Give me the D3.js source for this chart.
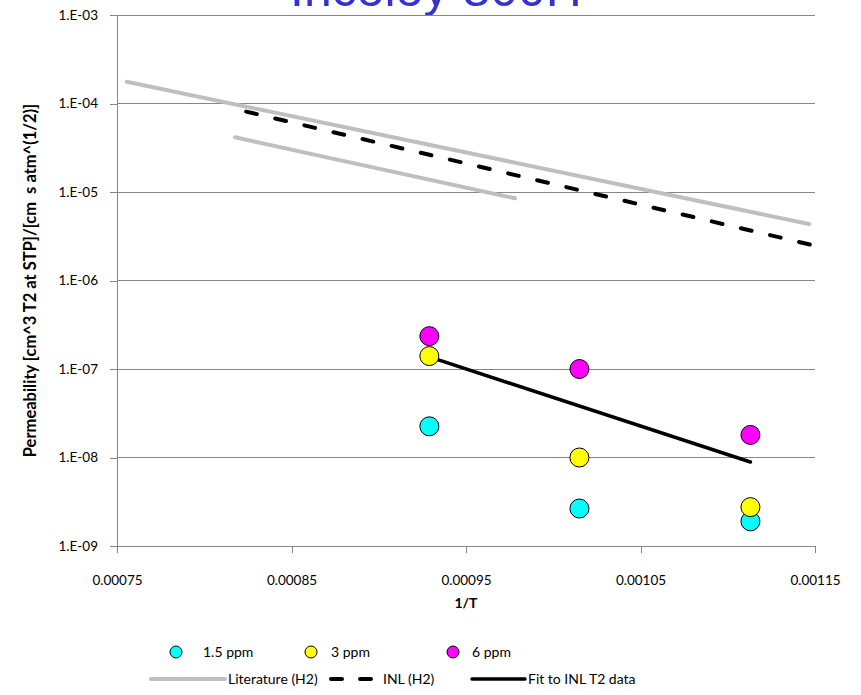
<!DOCTYPE html>
<html>
<head>
<meta charset="utf-8">
<script src="https://cdn.jsdelivr.net/npm/d3@7"></script>
<style>
  html, body { margin: 0; padding: 0; background: #fff; }
  svg { display: block; }
  text { font-family: Lato, "Open Sans", sans-serif; fill: #000; }
</style>
</head>
<body>
<div id="chart"></div>
<script>
// Inverse temperature (1/K) of the three test temperatures
const invT = [0.000929, 0.001015, 0.001113];

// Measured tritium permeability for each T2 concentration
const ppm15 = [2.25e-8, 2.65e-9, 1.9e-9];
const ppm3  = [1.40e-7, 1.0e-8, 2.75e-9];
const ppm6  = [2.35e-7, 1.0e-7, 1.8e-8];

// Literature hydrogen permeability correlations (end points)
const lit1X = [0.0007556, 0.0011466];
const lit1Y = [1.76e-4, 4.35e-6];
const lit2X = [0.0008176, 0.000978];
const lit2Y = [4.15e-5, 8.5e-6];

// INL hydrogen permeability (end points)
const inlX = [0.000824, 0.001147];
const inlY = [8.1e-5, 2.55e-6];

// Arrhenius fit to the INL T2 data (end points)
const fitX = [0.000929, 0.001113];
const fitY = [1.37e-7, 8.9e-9];

// Axis ticks
const xTicks = [0.00075, 0.00085, 0.00095, 0.00105, 0.00115];
const xTickLabels = ["0.00075", "0.00085", "0.00095", "0.00105", "0.00115"];
const yTicks = [1e-3, 1e-4, 1e-5, 1e-6, 1e-7, 1e-8, 1e-9];
const yTickLabels = ["1.E-03", "1.E-04", "1.E-05", "1.E-06", "1.E-07", "1.E-08", "1.E-09"];

const W = 861, H = 695;
const plot = { left: 117, right: 815, top: 15, bottom: 546 };
const axisColor = "#868686";

const svg = d3.select("#chart").append("svg")
  .attr("width", W).attr("height", H);

const x = d3.scaleLinear().domain([0.00075, 0.00115]).range([plot.left, plot.right]);
const y = d3.scaleLog().domain([1e-9, 1e-3]).range([plot.bottom, plot.top]);

// Title (sits above the plot area, mostly outside the visible frame)
svg.append("text")
  .attr("x", 436).attr("y", 6)
  .attr("text-anchor", "middle")
  .style("font-family", "'Liberation Sans', Arial, sans-serif")
  .style("font-size", "50px")
  .style("fill", "#3434CC")
  .text("Incoloy 800H");

// Horizontal gridlines
svg.append("g")
  .selectAll("line")
  .data(yTicks)
  .join("line")
  .attr("x1", plot.left).attr("x2", plot.right)
  .attr("y1", d => y(d)).attr("y2", d => y(d))
  .attr("stroke", axisColor).attr("stroke-width", 1)
  .attr("shape-rendering", "crispEdges");

// Y axis
const yAxis = d3.axisLeft(y)
  .tickValues(yTicks)
  .tickFormat((d, i) => yTickLabels[i])
  .tickSize(7).tickPadding(12);
const gy = svg.append("g").attr("transform", `translate(${plot.left},0)`).call(yAxis);
gy.select(".domain").attr("stroke", axisColor).attr("shape-rendering", "crispEdges");
gy.selectAll(".tick line").attr("stroke", axisColor).attr("shape-rendering", "crispEdges");
gy.selectAll(".tick text").style("font-family", "Lato, sans-serif").style("font-size", "13.5px").attr("fill", "#000");

// X axis
const xAxis = d3.axisBottom(x)
  .tickValues(xTicks)
  .tickFormat((d, i) => xTickLabels[i])
  .tickSize(7).tickPadding(22);
const gx = svg.append("g").attr("transform", `translate(0,${plot.bottom})`).call(xAxis);
gx.select(".domain").attr("stroke", axisColor).attr("shape-rendering", "crispEdges");
gx.selectAll(".tick line").attr("stroke", axisColor).attr("shape-rendering", "crispEdges");
gx.selectAll(".tick text").style("font-family", "Lato, sans-serif").style("font-size", "13.5px").attr("fill", "#000");

// Axis titles
svg.append("text")
  .attr("x", (plot.left + plot.right) / 2).attr("y", 608)
  .attr("text-anchor", "middle")
  .style("font-size", "14px").style("font-weight", "bold")
  .text("1/T");

svg.append("text")
  .attr("transform", `translate(36,${(plot.top + plot.bottom) / 2}) rotate(-90)`)
  .attr("text-anchor", "middle")
  .style("font-size", "16.5px").style("font-weight", "bold")
  .style("white-space", "pre")
  .text("Permeability [cm^3 T2 at STP]/[cm  s atm^(1/2)]");

const line = d3.line().x(d => x(d[0])).y(d => y(d[1]));
const pairs = (xs, ys) => xs.map((v, i) => [v, ys[i]]);

// Literature correlations
[[lit1X, lit1Y], [lit2X, lit2Y]].forEach(([xs, ys]) => {
  svg.append("path")
    .attr("d", line(pairs(xs, ys)))
    .attr("fill", "none").attr("stroke", "#BFBFBF")
    .attr("stroke-width", 4).attr("stroke-linecap", "round");
});

// INL hydrogen data: dash spacing stretched so the line ends on a dash
const inlPath = svg.append("path")
  .attr("d", line(pairs(inlX, inlY)))
  .attr("fill", "none").attr("stroke", "#000")
  .attr("stroke-width", 4).attr("stroke-linecap", "round");
{
  const len = inlPath.node().getTotalLength();
  const dash = 11, n = 20;
  const gap = (len - n * dash) / (n - 1);
  inlPath.attr("stroke-dasharray", `${dash},${gap}`);
}

// Fit line
svg.append("path")
  .attr("d", line(pairs(fitX, fitY)))
  .attr("fill", "none").attr("stroke", "#000")
  .attr("stroke-width", 3.5).attr("stroke-linecap", "round");

// Measured points
const series = [
  { name: "1.5 ppm", values: ppm15, color: "#00FFFF" },
  { name: "3 ppm", values: ppm3, color: "#FFFF00" },
  { name: "6 ppm", values: ppm6, color: "#FF00FF" }
];
series.forEach(s => {
  svg.append("g")
    .selectAll("circle")
    .data(pairs(invT, s.values))
    .join("circle")
    .attr("cx", d => x(d[0])).attr("cy", d => y(d[1]))
    .attr("r", 9.5)
    .attr("fill", s.color).attr("stroke", "#000").attr("stroke-width", 1);
});

// Legend
const leg = svg.append("g").style("font-size", "14px");
const markerLeg = [
  { label: "1.5 ppm", color: "#00FFFF", mx: 176, tx: 203 },
  { label: "3 ppm", color: "#FFFF00", mx: 311, tx: 331 },
  { label: "6 ppm", color: "#FF00FF", mx: 453, tx: 472 }
];
markerLeg.forEach(m => {
  leg.append("circle").attr("cx", m.mx).attr("cy", 652).attr("r", 6)
    .attr("fill", m.color).attr("stroke", "#000").attr("stroke-width", 1);
  leg.append("text").attr("x", m.tx).attr("y", 657).text(m.label);
});
const lineLeg = [
  { label: "Literature (H2)", color: "#BFBFBF", x1: 151, x2: 225, dash: null, w: 4 },
  { label: "INL (H2)", color: "#000", x1: 331, x2: 380, dash: "11,18", w: 4 },
  { label: "Fit to INL T2 data", color: "#000", x1: 472, x2: 525, dash: null, w: 3.5 }
];
lineLeg.forEach(l => {
  const p = leg.append("line").attr("x1", l.x1).attr("x2", l.x2)
    .attr("y1", 679).attr("y2", 679)
    .attr("stroke", l.color).attr("stroke-width", l.w).attr("stroke-linecap", "round");
  if (l.dash) p.attr("stroke-dasharray", l.dash);
  leg.append("text").attr("x", l.x2 + 3).attr("y", 684).text(l.label);
});
</script>
</body>
</html>
